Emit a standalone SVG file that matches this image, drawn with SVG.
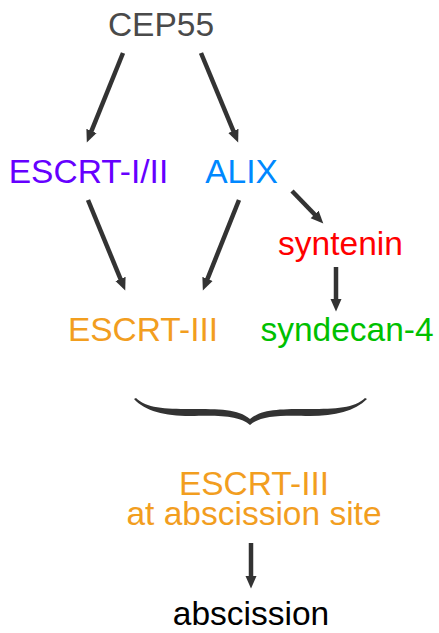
<svg xmlns="http://www.w3.org/2000/svg" width="439" height="633" viewBox="0 0 439 633">
<style>
text{font-family:"Liberation Sans",Arial,sans-serif;font-size:33.5px;text-anchor:middle}
.conn{stroke:#333;stroke-width:4.5;fill:none;marker-end:url(#ah)}
</style>
<defs>
<marker id="ah" markerUnits="userSpaceOnUse" markerWidth="13" markerHeight="12" refX="4" refY="5.5" orient="auto" viewBox="0 0 13 11">
<path d="M0,0 L12.5,5.5 L0,11 z" fill="#333"/>
</marker>
</defs>
<rect width="439" height="633" fill="#fff"/>
<g id="connectors">
<line class="conn" x1="123" y1="53" x2="90" y2="134.6"/>
<line class="conn" x1="201" y1="53" x2="234.9" y2="134.6"/>
<line class="conn" x1="292" y1="191" x2="317.4" y2="217.3"/>
<line class="conn" x1="88" y1="200" x2="122" y2="282.6"/>
<line class="conn" x1="239" y1="200" x2="206" y2="282.6"/>
<line class="conn" x1="336" y1="267" x2="336" y2="303"/>
<line class="conn" x1="251" y1="543" x2="251" y2="580"/>
<path id="brace" fill="#333" d="M134,399 C145,411 165,416 190,416 C222,415 240,416 250,425 C260,416 278,415 310,416 C335,416 355,411 367,399 L365,398 C355,408 335,409 310,409 C280,409 262,409 250,419 C238,409 220,409 190,409 C165,409 146,408 136,398 Z"/>
</g>
<g id="cep55"><text x="161" y="36" fill="#4a4a4a">CEP55</text></g>
<g id="escrt-i-ii"><text x="88.5" y="183" fill="#6600ff">ESCRT-I/II</text></g>
<g id="alix"><text x="241.5" y="183" fill="#0088ff">ALIX</text></g>
<g id="syntenin"><text x="340.5" y="255" fill="#ff0000">syntenin</text></g>
<g id="escrt-iii"><text x="143" y="341" fill="#f29e1f">ESCRT-III</text></g>
<g id="syndecan-4"><text x="347" y="341" fill="#00c000">syndecan-4</text></g>
<g id="escrt-iii-site"><text x="254" y="495" fill="#f29e1f">ESCRT-III</text><text x="254" y="525" fill="#f29e1f">at abscission site</text></g>
<g id="abscission"><text x="251" y="625" fill="#000">abscission</text></g>
</svg>
